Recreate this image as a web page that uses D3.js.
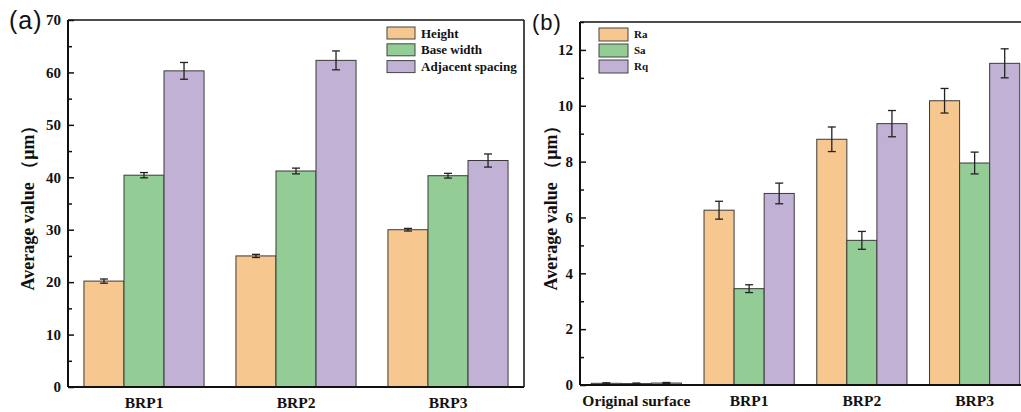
<!DOCTYPE html>
<html>
<head>
<meta charset="utf-8">
<script src="https://d3js.org/d3.v7.min.js"></script>
<style>
  body { margin: 0; background: #fff; }
  svg text { font-family: "Liberation Serif", "Times New Roman", serif; font-weight: bold; fill: #111; }
  .panel-tag { font-family: "Liberation Sans", Arial, sans-serif !important; font-weight: normal !important; }
</style>
</head>
<body>
<script>
// panel (a)
var catsA = ['BRP1', 'BRP2', 'BRP3'];
var seriesA = ['Height', 'Base width', 'Adjacent spacing'];
var valuesA = [[20.2, 25.0, 30.0], [40.4, 41.2, 40.3], [60.3, 62.3, 43.2]];
var errorsA = [[0.4, 0.3, 0.25], [0.5, 0.55, 0.45], [1.6, 1.8, 1.25]];
var ticksA = [0, 10, 20, 30, 40, 50, 60, 70];

// panel (b)
var catsB = ['Original surface', 'BRP1', 'BRP2', 'BRP3'];
var seriesB = ['Ra', 'Sa', 'Rq'];
var valuesB = [[0.06, 6.26, 8.8, 10.18], [0.05, 3.45, 5.18, 7.95], [0.07, 6.86, 9.36, 11.52]];
var errorsB = [[0.02, 0.32, 0.44, 0.44], [0.02, 0.14, 0.32, 0.39], [0.02, 0.37, 0.47, 0.52]];
var ticksB = [0, 2, 4, 6, 8, 10, 12];

var colors = ['#f6c78f', '#93cc94', '#c1b1d5'];

var svg = d3.select('body').append('svg')
  .attr('width', 1021).attr('height', 412);

function panel(opt) {
  var g = svg.append('g');
  var x = d3.scaleBand().domain(opt.cats).range([opt.x0, opt.x1])
    .paddingInner(opt.pad).paddingOuter(opt.pad / 2);
  var xs = d3.scaleBand().domain(d3.range(opt.series.length)).range([0, x.bandwidth()]);
  var y = d3.scaleLinear().domain([0, opt.ymax]).range([opt.yb, opt.yt]);

  // bars
  opt.series.forEach(function(s, si) {
    var data = opt.cats.map(function(c, ci) {
      return { c: c, v: opt.values[si][ci], e: opt.errors[si][ci] };
    });
    g.selectAll('rect.s' + si).data(data).enter().append('rect')
      .attr('x', function(d) { return x(d.c) + xs(si); })
      .attr('y', function(d) { return y(d.v); })
      .attr('width', xs.bandwidth())
      .attr('height', function(d) { return y(0) - y(d.v); })
      .attr('fill', colors[si])
      .attr('stroke', '#3a3a3a').attr('stroke-width', 1);
    // error bars
    var eb = g.selectAll('g.e' + si).data(data).enter().append('g')
      .attr('stroke', '#222').attr('stroke-width', 1.3);
    eb.append('line')
      .attr('x1', function(d) { return x(d.c) + xs(si) + xs.bandwidth() / 2; })
      .attr('x2', function(d) { return x(d.c) + xs(si) + xs.bandwidth() / 2; })
      .attr('y1', function(d) { return y(d.v + d.e); })
      .attr('y2', function(d) { return y(d.v - d.e); });
    [1, -1].forEach(function(sg) {
      eb.append('line')
        .attr('x1', function(d) { return x(d.c) + xs(si) + xs.bandwidth() / 2 - 4; })
        .attr('x2', function(d) { return x(d.c) + xs(si) + xs.bandwidth() / 2 + 4; })
        .attr('y1', function(d) { return y(d.v + sg * d.e); })
        .attr('y2', function(d) { return y(d.v + sg * d.e); });
    });
  });

  // frame
  g.append('line').attr('x1', opt.x0).attr('x2', opt.x1).attr('y1', opt.yt).attr('y2', opt.yt)
    .attr('stroke', '#111').attr('stroke-width', 1.5);
  g.append('line').attr('x1', opt.x1).attr('x2', opt.x1).attr('y1', opt.yt).attr('y2', opt.yb)
    .attr('stroke', '#111').attr('stroke-width', 1.5);

  // y axis, ticks inward
  var yAxis = g.append('g').attr('transform', 'translate(' + opt.x0 + ',0)')
    .call(d3.axisRight(y).tickValues(opt.ticks).tickSize(6).tickFormat(''));
  g.append('g').attr('transform', 'translate(' + opt.x0 + ',0)')
    .call(d3.axisRight(y).tickValues(opt.minor).tickSize(4).tickFormat(''))
    .select('.domain').remove();
  yAxis.select('.domain').attr('d', 'M0,' + opt.yt + 'V' + opt.yb).attr('stroke', '#111').attr('stroke-width', 2);
  g.selectAll('.tick line').attr('stroke', '#111').attr('stroke-width', 1.5);
  g.selectAll('text.yl').data(opt.ticks).enter().append('text').attr('class', 'yl')
    .attr('x', opt.x0 - 7).attr('y', function(d) { return y(d); })
    .attr('dy', '0.35em').attr('text-anchor', 'end')
    .style('font-size', '15px').text(function(d) { return d; });

  // x axis
  g.append('line').attr('x1', opt.x0).attr('x2', opt.x1).attr('y1', opt.yb).attr('y2', opt.yb)
    .attr('stroke', '#111').attr('stroke-width', 2);
  g.selectAll('text.xl').data(opt.cats).enter().append('text').attr('class', 'xl')
    .attr('x', function(d) { return x(d) + x.bandwidth() / 2; })
    .attr('y', opt.yb + 21).attr('text-anchor', 'middle')
    .style('font-size', '15.5px').text(function(d) { return d; });

  // y title
  g.append('text')
    .attr('transform', 'translate(' + opt.tx + ',' + (opt.yt + opt.yb) / 2 + ') rotate(-90)')
    .attr('text-anchor', 'middle').style('font-size', '18px')
    .text('Average value （μm）');

  // panel tag
  g.append('text').attr('class', 'panel-tag')
    .attr('x', opt.tagx).attr('y', opt.tagy).style('font-size', opt.tagfs)
    .style('letter-spacing', '1px').text(opt.tag);

  // legend
  var lg = g.append('g');
  opt.series.forEach(function(s, si) {
    lg.append('rect')
      .attr('x', opt.lx).attr('y', opt.ly + si * opt.lstep)
      .attr('width', opt.lw).attr('height', opt.lh)
      .attr('fill', colors[si]).attr('stroke', '#444').attr('stroke-width', 1);
    lg.append('text')
      .attr('x', opt.lx + opt.lw + 6).attr('y', opt.ly + si * opt.lstep + opt.lh / 2)
      .attr('dy', '0.35em').style('font-size', opt.lfs).text(s);
  });
}

panel({
  cats: catsA, series: seriesA, values: valuesA, errors: errorsA,
  ticks: ticksA, minor: [5, 15, 25, 35, 45, 55, 65], ymax: 70,
  x0: 68, x1: 524, yt: 20, yb: 387, pad: 0.21, tx: 34,
  tag: '(a)', tagx: 9, tagy: 29, tagfs: '25px',
  lx: 387, ly: 27, lw: 28, lh: 12, lstep: 16.8, lfs: '13px'
});

panel({
  cats: catsB, series: seriesB, values: valuesB, errors: errorsB,
  ticks: ticksB, minor: [1, 3, 5, 7, 9, 11, 13], ymax: 13,
  x0: 580, x1: 1031, yt: 22, yb: 385, pad: 0.2, tx: 557,
  tag: '(b)', tagx: 532, tagy: 30, tagfs: '22px',
  lx: 599, ly: 28, lw: 29, lh: 13, lstep: 16, lfs: '11px'
});
</script>
</body>
</html>
